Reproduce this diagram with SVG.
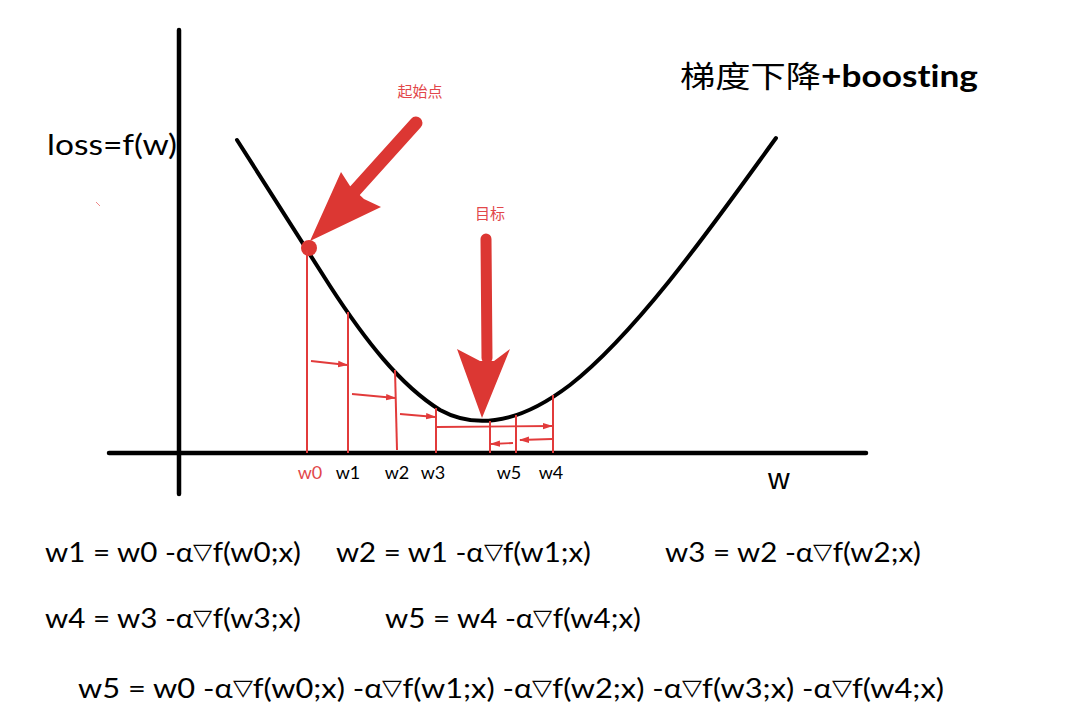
<svg xmlns="http://www.w3.org/2000/svg" width="1084" height="723" viewBox="0 0 1084 723">
<style>
text{font-variant-ligatures:none}
.ax{stroke:#000;stroke-width:4.5;fill:none;stroke-linecap:round}
.curve{stroke:#000;stroke-width:4;fill:none;stroke-linecap:round;stroke-linejoin:round}
.rl{stroke:#e23b3b;stroke-width:2;fill:none}
.ra{stroke:#e23b3b;stroke-width:1.8;fill:none;marker-end:url(#ah)}
.big{fill:#dc3733}
.bigs{stroke:#dc3733;fill:none;stroke-linecap:round}
.eq{font-family:Lato,"Open Sans",sans-serif;font-size:26px;fill:#000}
.tick{font-family:Lato,"Open Sans",sans-serif;font-size:18px;fill:#000}
.cn{font-family:"Noto Sans CJK SC","Noto Sans",sans-serif;font-size:15px;fill:#e2474a}
.nab{font-size:22px}
</style>
<defs>
<marker id="ah" markerWidth="10" markerHeight="8" refX="9" refY="4" orient="auto" markerUnits="userSpaceOnUse">
<path d="M0,0.8 L10,4 L0,7.2 Z" fill="#e23b3b"/>
</marker>
</defs>
<rect width="1084" height="723" fill="#fff"/>
<g id="axes">
<line class="ax" x1="179" y1="30" x2="179" y2="494"/>
<line class="ax" x1="109" y1="453" x2="866" y2="453"/>
<text x="768" y="489" style="font-family:'Liberation Sans',sans-serif;font-size:30px" fill="#000">w</text>
<text x="47" y="155" textLength="130" lengthAdjust="spacingAndGlyphs" style="font-family:Lato,'Open Sans',sans-serif;font-size:28px" fill="#000">loss=f(w)</text>
<line x1="96" y1="202" x2="100" y2="206" stroke="#e88" stroke-width="1"/>
</g>
<g id="title">
<text x="680" y="87" textLength="298" lengthAdjust="spacingAndGlyphs" style="font-family:'Noto Sans CJK SC',sans-serif;font-size:30px" fill="#000">梯度下降<tspan style="font-family:Lato,'Open Sans',sans-serif;font-weight:bold">+boosting</tspan></text>
</g>
<g id="loss-curve">
<path class="curve" d="M237,140 L330,286 C365,340 400,385 440,410 C460,421 480,422 495,420 C520,417 545,404 570,385 C640,330 720,215 776,138"/>
</g>
<g id="start-point">
<text class="cn" x="420" y="97" text-anchor="middle">起始点</text>
<line class="bigs" x1="416" y1="123" x2="352" y2="194" stroke-width="13"/>
<polygon class="big" points="310,241 341,172 350,186 364,199 381,207"/>
<circle cx="309" cy="248" r="8" fill="#dc3733"/>
</g>
<g id="target">
<text class="cn" x="490" y="219" text-anchor="middle">目标</text>
<line class="bigs" x1="486" y1="239" x2="487" y2="358" stroke-width="11"/>
<polygon class="big" points="457,349 480,361 494,361 510,349 482,418"/>
</g>
<g id="connectors">
<line class="rl" x1="307" y1="250" x2="307" y2="453" stroke-width="3"/>
<line class="rl" x1="348" y1="312" x2="348" y2="453"/>
<line class="rl" x1="395" y1="370" x2="397" y2="450"/>
<line class="rl" x1="436" y1="408" x2="436" y2="453"/>
<line class="rl" x1="490" y1="421" x2="490" y2="453"/>
<line class="rl" x1="516" y1="415" x2="516" y2="453"/>
<line class="rl" x1="553" y1="395" x2="553" y2="453"/>
<line class="ra" x1="311" y1="361" x2="347" y2="365"/>
<line class="ra" x1="352" y1="394" x2="395" y2="398"/>
<line class="ra" x1="400" y1="414" x2="435" y2="417"/>
<line class="ra" x1="437" y1="427" x2="552" y2="426"/>
<line class="ra" x1="552" y1="439" x2="520" y2="440"/>
<line class="ra" x1="513" y1="443" x2="491" y2="444"/>
</g>
<g id="ticks">
<text class="tick" x="310" y="479" text-anchor="middle" style="fill:#e2474a">w0</text>
<text class="tick" x="348" y="479" text-anchor="middle">w1</text>
<text class="tick" x="397" y="479" text-anchor="middle">w2</text>
<text class="tick" x="433" y="479" text-anchor="middle">w3</text>
<text class="tick" x="509" y="479" text-anchor="middle">w5</text>
<text class="tick" x="551" y="479" text-anchor="middle">w4</text>
</g>
<g id="equations">
<text class="eq" x="45" y="562" textLength="256" lengthAdjust="spacingAndGlyphs">w1 = w0 -α<tspan class="nab" dy="-3">▽</tspan><tspan dy="3">f(w0;x)</tspan></text>
<text class="eq" x="336" y="562" textLength="255" lengthAdjust="spacingAndGlyphs">w2 = w1 -α<tspan class="nab" dy="-3">▽</tspan><tspan dy="3">f(w1;x)</tspan></text>
<text class="eq" x="665" y="562" textLength="256" lengthAdjust="spacingAndGlyphs">w3 = w2 -α<tspan class="nab" dy="-3">▽</tspan><tspan dy="3">f(w2;x)</tspan></text>
<text class="eq" x="45" y="628" textLength="256" lengthAdjust="spacingAndGlyphs">w4 = w3 -α<tspan class="nab" dy="-3">▽</tspan><tspan dy="3">f(w3;x)</tspan></text>
<text class="eq" x="385" y="628" textLength="256" lengthAdjust="spacingAndGlyphs">w5 = w4 -α<tspan class="nab" dy="-3">▽</tspan><tspan dy="3">f(w4;x)</tspan></text>
<text class="eq" x="78" y="698" textLength="866" lengthAdjust="spacingAndGlyphs">w5 = w0 -α<tspan class="nab" dy="-3">▽</tspan><tspan dy="3">f(w0;x) -α</tspan><tspan class="nab" dy="-3">▽</tspan><tspan dy="3">f(w1;x) -α</tspan><tspan class="nab" dy="-3">▽</tspan><tspan dy="3">f(w2;x) -α</tspan><tspan class="nab" dy="-3">▽</tspan><tspan dy="3">f(w3;x) -α</tspan><tspan class="nab" dy="-3">▽</tspan><tspan dy="3">f(w4;x)</tspan></text>
</g>
</svg>
